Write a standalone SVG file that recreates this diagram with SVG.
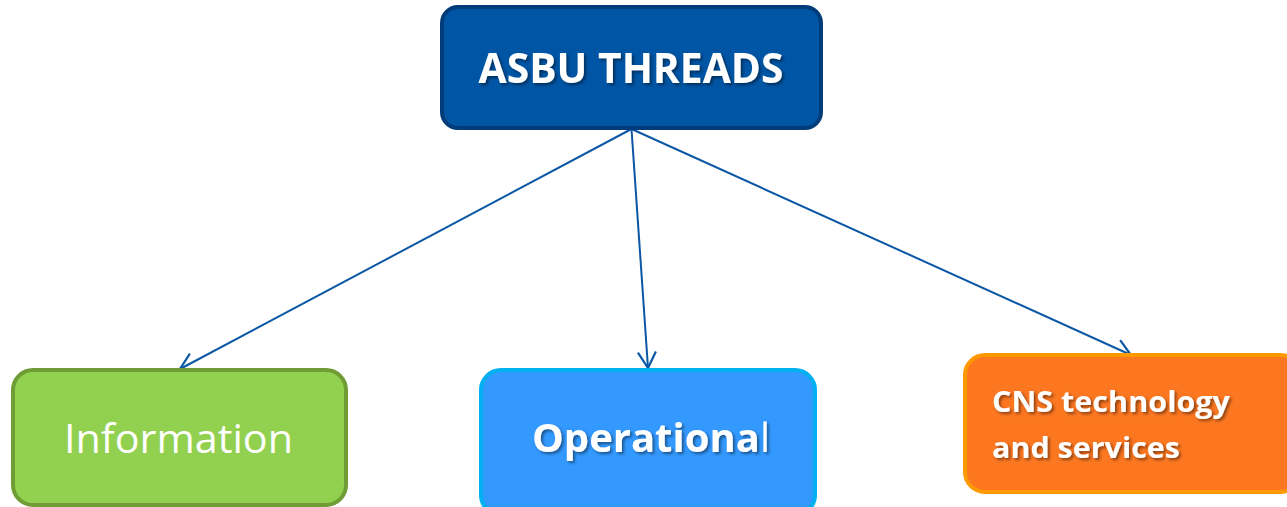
<svg xmlns="http://www.w3.org/2000/svg" width="1287" height="507" viewBox="0 0 1287 507">
<defs>
<style>
.box{stroke-width:4}
.lbl{fill:#ffffff;font-family:"Open Sans","Liberation Sans",sans-serif}
.b{font-weight:bold}
.conn{stroke:#0b57a4;stroke-width:2;fill:none}
</style>
<filter id="sh" x="-10%" y="-30%" width="120%" height="160%">
<feDropShadow dx="2" dy="2" stdDeviation="1.5" flood-color="#000" flood-opacity="0.45"/>
</filter>
<marker id="arr" markerUnits="userSpaceOnUse" markerWidth="40" markerHeight="40" viewBox="-20 -20 40 40" refX="0" refY="0" orient="auto">
<path d="M-16,-9 L0,0 L-16,9" fill="none" stroke="#0b57a4" stroke-width="2.2"/>
</marker>
</defs>
<rect width="1287" height="507" fill="#ffffff"/>
<g id="connectors">
<line class="conn" x1="631.5" y1="129" x2="180" y2="369" marker-end="url(#arr)"/>
<line class="conn" x1="631.5" y1="129" x2="648" y2="368" marker-end="url(#arr)"/>
<line class="conn" x1="631.5" y1="129" x2="1131" y2="355" marker-end="url(#arr)"/>
</g>
<g id="asbu-threads">
<rect class="box" x="442" y="7" width="379" height="121" rx="16" fill="#0055a5" stroke="#003c7a"/>
<text class="lbl b" x="631" y="83" font-size="41" text-anchor="middle" textLength="305" lengthAdjust="spacingAndGlyphs" filter="url(#sh)">ASBU THREADS</text>
</g>
<g id="information">
<rect class="box" x="13" y="370" width="333" height="135" rx="20" fill="#92d050" stroke="#6f9c34"/>
<text class="lbl" x="64" y="453" font-size="41" textLength="229" lengthAdjust="spacingAndGlyphs">Information</text>
</g>
<g id="operational">
<rect class="box" x="481" y="370" width="334" height="145" rx="20" fill="#3399ff" stroke="#00b0f0"/>
<text class="lbl" x="532" y="452" font-size="40" filter="url(#sh)"><tspan class="b">Operationa</tspan><tspan font-weight="normal">l</tspan></text>
</g>
<g id="cns">
<rect class="box" x="965" y="355" width="335" height="137" rx="20" fill="#fd7721" stroke="#fe9900"/>
<text class="lbl b" x="992" y="412" font-size="28" textLength="238" lengthAdjust="spacingAndGlyphs" filter="url(#sh)">CNS technology</text>
<text class="lbl b" x="992" y="458" font-size="28" textLength="188" lengthAdjust="spacingAndGlyphs" filter="url(#sh)">and services</text>
</g>
</svg>
